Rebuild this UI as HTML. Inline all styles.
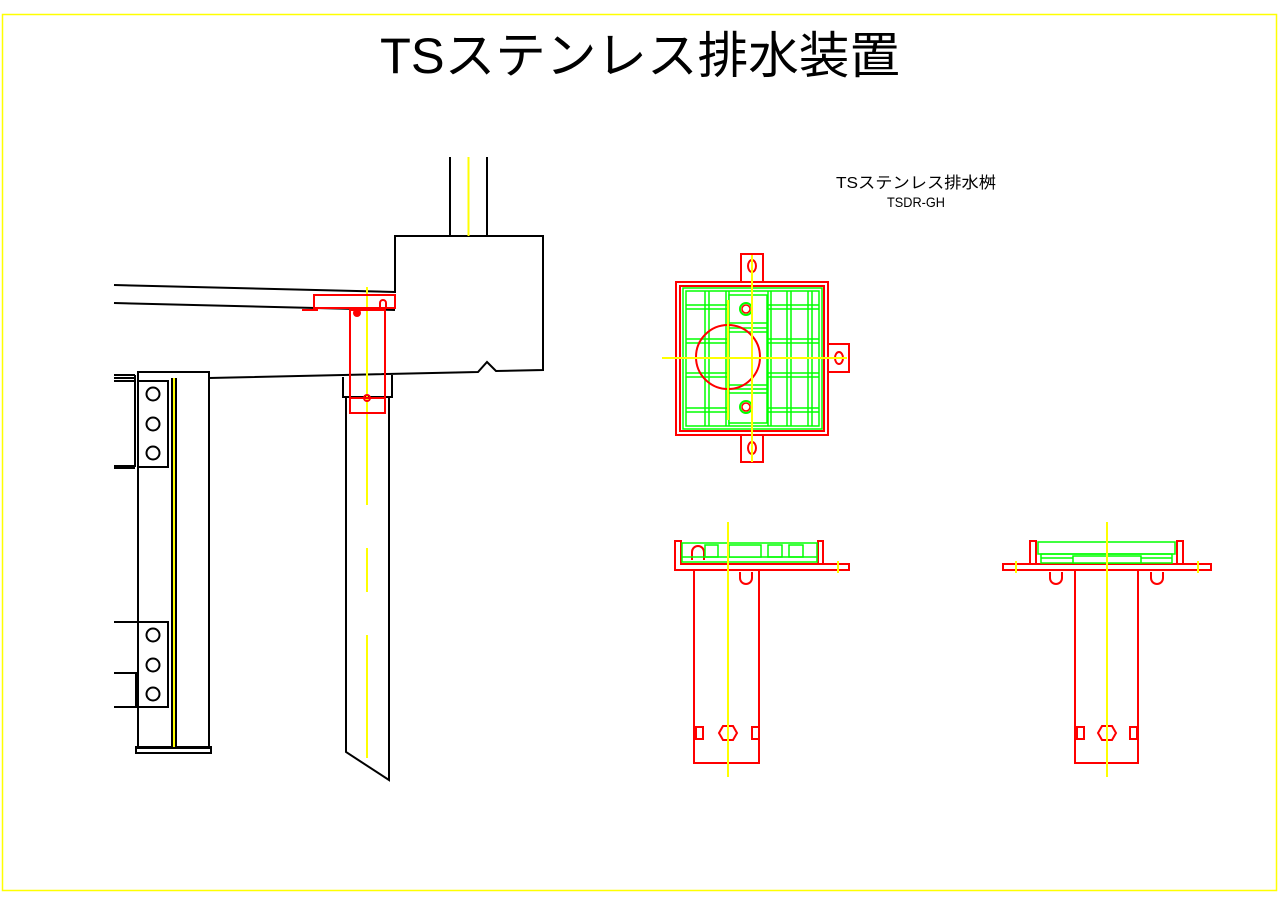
<!DOCTYPE html>
<html><head><meta charset="utf-8"><style>
html,body{margin:0;padding:0;background:#fff;}
svg{display:block;}
text{font-family:"Liberation Sans","Noto Sans CJK JP",sans-serif;}
</style></head><body>
<svg width="1280" height="905" viewBox="0 0 1280 905" xmlns="http://www.w3.org/2000/svg">
<rect x="2.5" y="14.5" width="1274" height="876" fill="none" stroke="#ffff00" stroke-width="1.5"/>
<text x="380" y="73" font-size="50" textLength="520" lengthAdjust="spacingAndGlyphs" fill="#000">TSステンレス排水装置</text>
<text x="836" y="188" font-size="16" textLength="160" lengthAdjust="spacingAndGlyphs" fill="#000">TSステンレス排水桝</text>
<text x="887" y="207" font-size="14" textLength="58" lengthAdjust="spacingAndGlyphs" fill="#000">TSDR-GH</text>

<!-- LEFT DRAWING -->
<g fill="none" stroke="#000" stroke-width="2">
<line x1="450" y1="157" x2="450" y2="236"/><line x1="487" y1="157" x2="487" y2="236"/>
<polyline points="395,293 395,236 543,236 543,370 496,371 487,362 478,372 209,378"/>
<line x1="114" y1="285" x2="395" y2="292"/>
<line x1="114" y1="303" x2="395" y2="310"/>
<polyline points="343,377 343,397 392,397 392,375"/>
<polyline points="346,397 346,752 389,780 389,397"/>
<rect x="138" y="372" width="71" height="376"/>
<rect x="136" y="747" width="75" height="6"/>
<rect x="138" y="381" width="30" height="86"/>
<rect x="138" y="622" width="30" height="85"/>
<line x1="114" y1="375" x2="135" y2="375"/><line x1="114" y1="378" x2="135" y2="378"/><line x1="114" y1="381" x2="135" y2="381"/>
<line x1="135" y1="375" x2="135" y2="467"/>
<line x1="114" y1="467" x2="135" y2="467" stroke-width="4"/>
<line x1="114" y1="622" x2="138" y2="622"/>
<polyline points="114,673 136,673 136,707"/>
<line x1="114" y1="707" x2="138" y2="707"/>
<circle cx="153" cy="394" r="6.5"/><circle cx="153" cy="424" r="6.5"/><circle cx="153" cy="453" r="6.5"/>
<circle cx="153" cy="635" r="6.5"/><circle cx="153" cy="665" r="6.5"/><circle cx="153" cy="694" r="6.5"/>
<line x1="172" y1="378" x2="172" y2="747"/><line x1="176" y1="378" x2="176" y2="747"/>
</g>
<g stroke="#ffff00" stroke-width="2" fill="none">
<line x1="468.5" y1="157" x2="468.5" y2="236"/>
<line x1="174" y1="378" x2="174" y2="747"/>
<line x1="367" y1="287" x2="367" y2="505"/>
<line x1="367" y1="548" x2="367" y2="592"/>
<line x1="367" y1="635" x2="367" y2="758"/>
</g>
<g fill="none" stroke="#ff0000" stroke-width="2">
<rect x="314" y="295" width="81" height="13"/>
<line x1="302" y1="310" x2="318" y2="310"/>
<rect x="350" y="310" width="35" height="103"/>
<line x1="350" y1="398" x2="385" y2="398"/>
<circle cx="367" cy="398" r="3"/>
<path d="M380 307 v-4 a3 3 0 0 1 6 0 v4"/>
<circle cx="357" cy="313" r="3" fill="#ff0000"/>
</g>

<!-- TOP VIEW -->
<g fill="none" stroke="#ff0000" stroke-width="2">
<rect x="676" y="282" width="152" height="153"/>
<rect x="680" y="286" width="144" height="145"/>
<rect x="741" y="254" width="22" height="28"/>
<rect x="741" y="435" width="22" height="27"/>
<rect x="828" y="344" width="21" height="28"/>
<ellipse cx="752" cy="266" rx="4" ry="6"/><ellipse cx="752" cy="448" rx="4" ry="6"/><ellipse cx="839" cy="358" rx="4" ry="6"/>
</g>
<g fill="none" stroke="#00ff00" stroke-width="1.5">
<rect x="683" y="288" width="139" height="141"/>
<rect x="686" y="291" width="133" height="135"/>
<line x1="686" y1="305" x2="819" y2="305"/><line x1="686" y1="309" x2="819" y2="309"/>
<line x1="686" y1="339" x2="819" y2="339"/><line x1="686" y1="343" x2="819" y2="343"/>
<line x1="686" y1="373" x2="819" y2="373"/><line x1="686" y1="377" x2="819" y2="377"/>
<line x1="686" y1="408" x2="819" y2="408"/><line x1="686" y1="412" x2="819" y2="412"/>
<line x1="705" y1="291" x2="705" y2="426"/><line x1="709" y1="291" x2="709" y2="426"/>
<line x1="726" y1="291" x2="726" y2="426"/><line x1="729" y1="291" x2="729" y2="426"/>
<line x1="768" y1="291" x2="768" y2="426"/><line x1="771" y1="291" x2="771" y2="426"/>
<line x1="787" y1="291" x2="787" y2="426"/><line x1="791" y1="291" x2="791" y2="426"/>
<line x1="808" y1="291" x2="808" y2="426"/><line x1="812" y1="291" x2="812" y2="426"/>
<rect x="729" y="295" width="38" height="128" fill="#fff"/>
<line x1="729" y1="323" x2="767" y2="323"/><line x1="729" y1="328" x2="767" y2="328"/><line x1="729" y1="332" x2="767" y2="332"/>
<line x1="729" y1="385" x2="767" y2="385"/><line x1="729" y1="389" x2="767" y2="389"/><line x1="729" y1="393" x2="767" y2="393"/>
<circle cx="746" cy="309" r="6" stroke-width="2"/><circle cx="746" cy="407" r="6" stroke-width="2"/>
</g>
<circle cx="746" cy="309" r="4" fill="none" stroke="#ff0000" stroke-width="1.5"/>
<circle cx="746" cy="407" r="4" fill="none" stroke="#ff0000" stroke-width="1.5"/>
<circle cx="728" cy="357" r="32" fill="none" stroke="#ff0000" stroke-width="2"/>
<g stroke="#ffff00" stroke-width="2">
<line x1="662" y1="358" x2="847" y2="358"/>
<line x1="752" y1="255" x2="752" y2="462"/>
<line x1="728" y1="300" x2="728" y2="420"/>
</g>

<!-- SIDE VIEW LEFT -->
<g fill="none" stroke="#ff0000" stroke-width="2">
<polyline points="818,564 849,564 849,570 675,570 675,541 681,541 681,564 818,564 818,541 823,541 823,564"/>
<rect x="694" y="570" width="65" height="193"/>
<path d="M740 572 v6 a6 6 0 0 0 12 0 v-6"/>
<polygon points="719,733 723,726 733,726 737,733 733,740 723,740"/>
<rect x="696" y="727" width="7" height="12"/><rect x="752" y="727" width="7" height="12"/>
<path d="M692 560 v-8 a6 6 0 0 1 12 0 v8"/>
</g>
<g fill="none" stroke="#00ff00" stroke-width="1.5">
<rect x="682" y="543" width="135" height="19"/>
<line x1="682" y1="557" x2="817" y2="557"/>
<rect x="705" y="545" width="13" height="12"/><rect x="729" y="545" width="32" height="12" fill="#fff"/>
<rect x="768" y="545" width="14" height="12"/><rect x="789" y="545" width="14" height="12"/>
</g>
<line x1="728" y1="522" x2="728" y2="777" stroke="#ffff00" stroke-width="2"/>
<line x1="838" y1="561" x2="838" y2="573" stroke="#ffff00" stroke-width="2"/>

<!-- SIDE VIEW RIGHT -->
<g fill="none" stroke="#ff0000" stroke-width="2">
<rect x="1003" y="564" width="208" height="6"/>
<polyline points="1030,564 1030,541 1036,541 1036,564"/>
<polyline points="1183,564 1183,541 1177,541 1177,564"/>
<rect x="1075" y="570" width="63" height="193"/>
<path d="M1050 572 v6 a6 6 0 0 0 12 0 v-6"/>
<path d="M1151 572 v6 a6 6 0 0 0 12 0 v-6"/>
<polygon points="1098,733 1102,726 1112,726 1116,733 1112,740 1102,740"/>
<rect x="1077" y="727" width="7" height="12"/><rect x="1130" y="727" width="7" height="12"/>
</g>
<g fill="none" stroke="#00ff00" stroke-width="1.5">
<rect x="1038" y="542" width="137" height="12"/>
<rect x="1041" y="554" width="131" height="9"/>
<line x1="1041" y1="558" x2="1172" y2="558"/>
<rect x="1073" y="556" width="68" height="7" fill="#fff"/>
</g>
<line x1="1107" y1="522" x2="1107" y2="777" stroke="#ffff00" stroke-width="2"/>
<line x1="1016" y1="561" x2="1016" y2="573" stroke="#ffff00" stroke-width="2"/>
<line x1="1198" y1="561" x2="1198" y2="573" stroke="#ffff00" stroke-width="2"/>
</svg>
</body></html>
